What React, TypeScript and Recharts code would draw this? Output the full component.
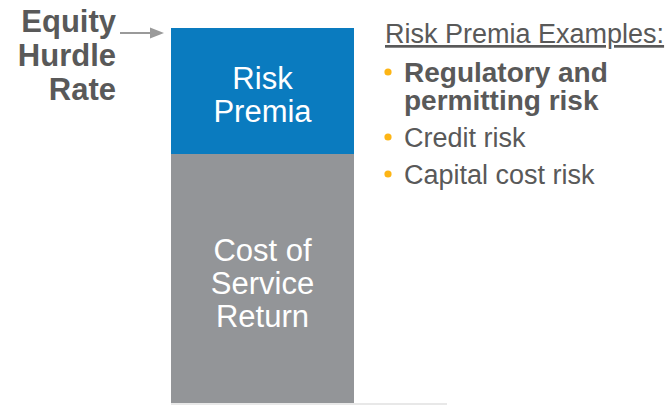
import { Bar, BarChart, LabelList, ReferenceLine, XAxis, YAxis } from 'recharts';

const categories = ['Equity Hurdle Rate'];
const costOfService = [66.5];
const riskPremia = [33.5];

const costLines = ['Cost of', 'Service', 'Return'];
const premiaLines = ['Risk', 'Premia'];
const hurdleLines = ['Equity', 'Hurdle', 'Rate'];
const examplesTitle = 'Risk Premia Examples:';
const examples = ['Regulatory and|permitting risk', 'Credit risk', 'Capital cost risk'];
const examplesBold = [true, false, false];

const data = categories.map((name, i) => ({
  name,
  cost: costOfService[i],
  premia: riskPremia[i],
}));

const GRAY_TEXT = '#595959';
const FONT = '"Liberation Sans", Arial, sans-serif';

function blockLabel(lines: string[]) {
  return (props: any) => {
    const { x, y, width, height } = props;
    const cx = Number(x) + Number(width) / 2;
    const cy = Number(y) + Number(height) / 2;
    const n = lines.length;
    return (
      <text textAnchor="middle" fill="#fff" fontSize={31} fontFamily={FONT}>
        {lines.map((l, i) => (
          <tspan key={l} x={cx} y={cy + (i - (n - 1) / 2) * 33 + 15}>
            {l}
          </tspan>
        ))}
      </text>
    );
  };
}

export default function App() {
  const exampleRows: { text: string; bold: boolean; y: number; bullet: boolean }[] = [];
  let y = 82;
  examples.forEach((ex, i) => {
    ex.split('|').forEach((part, j) => {
      exampleRows.push({ text: part, bold: examplesBold[i], y, bullet: j === 0 });
      y += j === 0 && ex.includes('|') ? 28 : 0;
    });
    y += 37;
  });

  return (
    <div style={{ position: 'absolute', left: 0, top: 0, width: 672, height: 405, background: '#fff' }}>
      <BarChart
        width={672}
        height={405}
        data={data}
        margin={{ top: 28, right: 225, left: 171, bottom: 1 }}
        barCategoryGap={0}
      >
        <XAxis
          dataKey="name"
          height={0}
          tick={false}
          tickLine={false}
          axisLine={false}
          padding={{ left: 0, right: 93 }}
        />
        <YAxis hide domain={[0, 100]} />
        <ReferenceLine y={0} stroke="#e8e8e8" strokeWidth={2} ifOverflow="visible" />
        <Bar dataKey="cost" stackId="a" fill="#939598" isAnimationActive={false}>
          <LabelList dataKey="cost" content={blockLabel(costLines)} />
        </Bar>
        <Bar dataKey="premia" stackId="a" fill="#0A7BBF" isAnimationActive={false}>
          <LabelList dataKey="premia" content={blockLabel(premiaLines)} />
        </Bar>
      </BarChart>

      <svg
        width={672}
        height={405}
        style={{ position: 'absolute', left: 0, top: 0, pointerEvents: 'none' }}
      >
        <text textAnchor="end" fill={GRAY_TEXT} fontSize={31} fontWeight="bold" fontFamily={FONT}>
          {hurdleLines.map((l, i) => (
            <tspan key={l} x={116} y={32 + i * 34}>
              {l}
            </tspan>
          ))}
        </text>
        <line x1={120} y1={33} x2={151} y2={33} stroke="#9a9a9a" strokeWidth={2} />
        <polygon points="150,27.5 164,33 150,38.5" fill="#9a9a9a" />

        <text
          x={385}
          y={43}
          fill={GRAY_TEXT}
          fontSize={27}
          fontFamily={FONT}
          style={{ textDecoration: 'underline' }}
        >
          {examplesTitle}
        </text>
        {exampleRows.map((r) => (
          <g key={r.text}>
            {r.bullet && <circle cx={388} cy={r.y - 10} r={3.6} fill="#FDB515" />}
            <text
              x={404}
              y={r.y}
              fill={GRAY_TEXT}
              fontSize={r.bold ? 28 : 27}
              fontWeight={r.bold ? 'bold' : 'normal'}
              fontFamily={FONT}
            >
              {r.text}
            </text>
          </g>
        ))}
      </svg>
    </div>
  );
}
